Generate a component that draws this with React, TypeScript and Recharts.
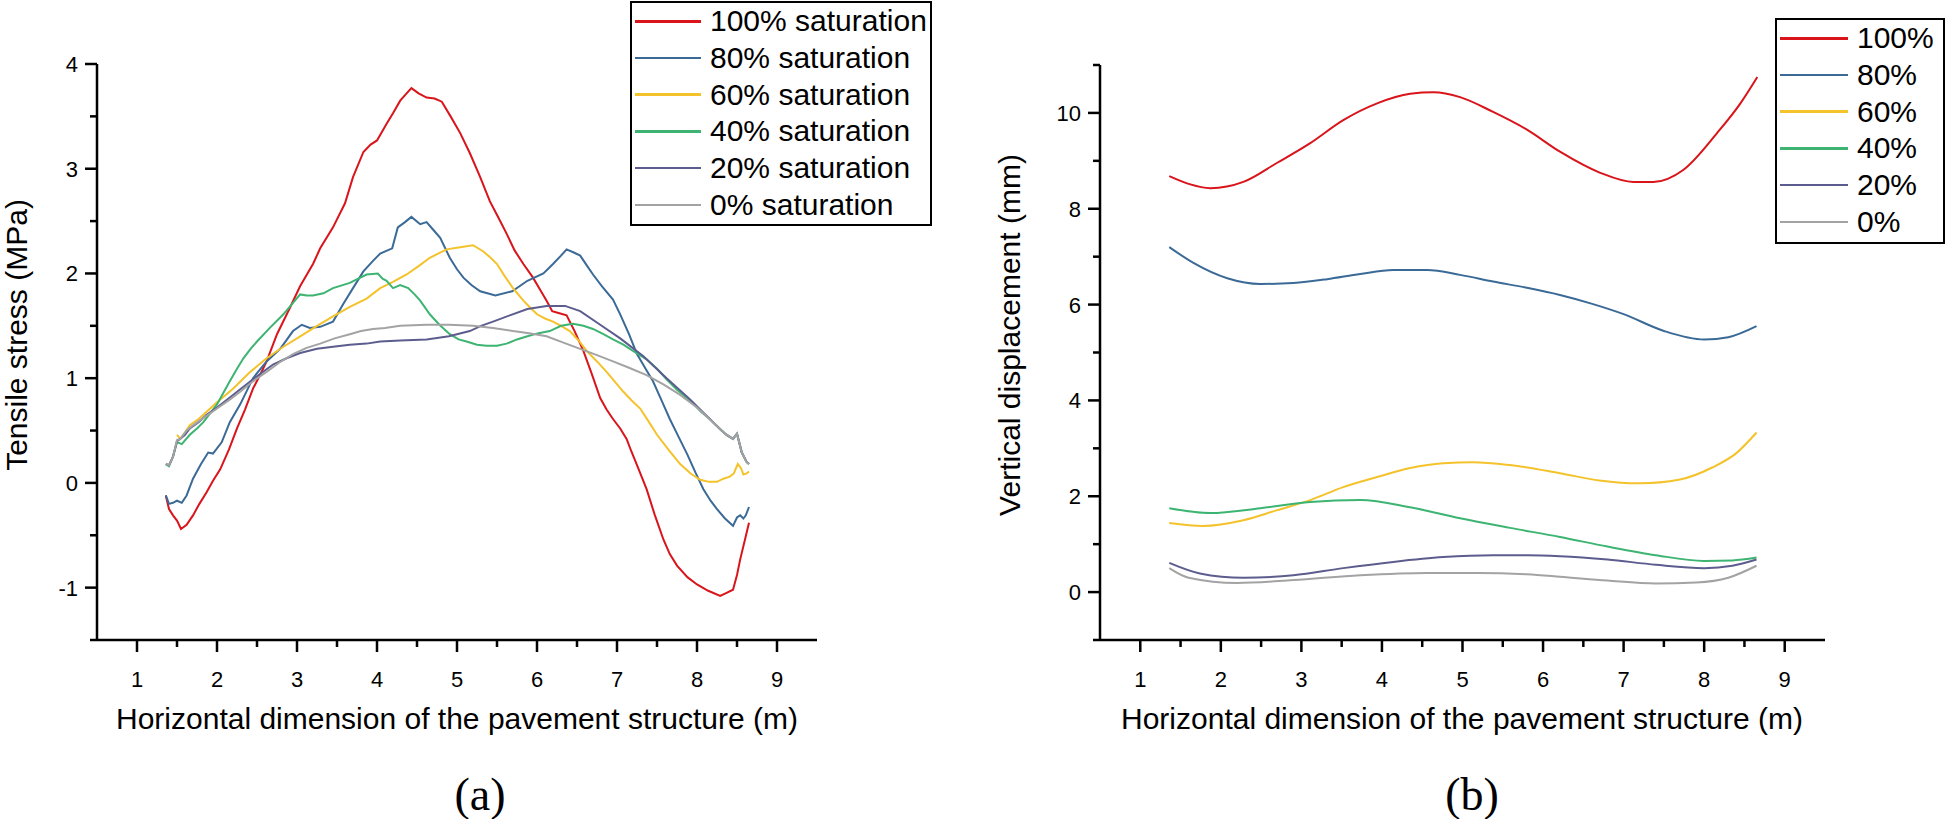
import { Legend, Line, LineChart, XAxis, YAxis } from 'recharts';

const FONT = '"Liberation Sans", Arial, Helvetica, sans-serif';

// (a) tensile stress along the section, [x (m), stress (MPa)]
const a100 = [
  [1.36, -0.12], [1.4, -0.25], [1.45, -0.31], [1.5, -0.36], [1.55, -0.44], [1.62, -0.4], [1.7, -0.31],
  [1.78, -0.2], [1.87, -0.09], [1.95, 0.02], [2.04, 0.13], [2.15, 0.32], [2.25, 0.52], [2.35, 0.7],
  [2.45, 0.9], [2.55, 1.05], [2.62, 1.16], [2.75, 1.42], [2.91, 1.67], [3.04, 1.88], [3.2, 2.09],
  [3.29, 2.24], [3.45, 2.44], [3.6, 2.67], [3.7, 2.92], [3.83, 3.16], [3.92, 3.23], [4.0, 3.27],
  [4.12, 3.43], [4.2, 3.53], [4.29, 3.65], [4.37, 3.72], [4.43, 3.77], [4.52, 3.72], [4.62, 3.68],
  [4.72, 3.67], [4.81, 3.64], [4.92, 3.5], [5.04, 3.34], [5.16, 3.15], [5.29, 2.92], [5.41, 2.69],
  [5.52, 2.53], [5.62, 2.38], [5.72, 2.22], [5.83, 2.09], [5.95, 1.96], [6.05, 1.83], [6.12, 1.74],
  [6.19, 1.64], [6.28, 1.62], [6.37, 1.6], [6.47, 1.45], [6.58, 1.26], [6.68, 1.05], [6.79, 0.81],
  [6.87, 0.7], [6.95, 0.61], [7.04, 0.52], [7.12, 0.42], [7.18, 0.3], [7.25, 0.17], [7.37, -0.06],
  [7.47, -0.3], [7.58, -0.54], [7.66, -0.68], [7.75, -0.79], [7.88, -0.9], [8.0, -0.97], [8.14, -1.03],
  [8.29, -1.08], [8.37, -1.05], [8.45, -1.02], [8.5, -0.88], [8.54, -0.73], [8.6, -0.54], [8.65, -0.38],
];
const a80 = [
  [1.36, -0.12], [1.4, -0.2], [1.45, -0.19], [1.5, -0.17], [1.56, -0.19], [1.62, -0.12], [1.7, 0.04],
  [1.8, 0.18], [1.89, 0.29], [1.95, 0.28], [2.06, 0.39], [2.16, 0.58], [2.29, 0.75], [2.45, 1.0],
  [2.62, 1.16], [2.79, 1.28], [2.95, 1.45], [3.06, 1.51], [3.16, 1.48], [3.29, 1.49], [3.45, 1.54],
  [3.58, 1.71], [3.7, 1.86], [3.83, 2.02], [3.95, 2.12], [4.04, 2.19], [4.19, 2.24], [4.26, 2.44],
  [4.35, 2.49], [4.43, 2.54], [4.54, 2.47], [4.62, 2.49], [4.7, 2.42], [4.79, 2.34], [4.91, 2.15],
  [5.0, 2.04], [5.08, 1.96], [5.18, 1.89], [5.29, 1.83], [5.48, 1.79], [5.69, 1.83], [5.88, 1.93],
  [6.08, 2.0], [6.2, 2.09], [6.3, 2.17], [6.37, 2.23], [6.46, 2.2], [6.54, 2.17], [6.62, 2.08],
  [6.7, 1.99], [6.81, 1.88], [6.95, 1.75], [7.04, 1.61], [7.15, 1.42], [7.25, 1.23], [7.35, 1.1],
  [7.45, 0.97], [7.55, 0.8], [7.66, 0.61], [7.77, 0.44], [7.88, 0.27], [7.98, 0.1], [8.08, -0.06],
  [8.17, -0.17], [8.25, -0.25], [8.35, -0.34], [8.45, -0.41], [8.5, -0.33], [8.54, -0.31],
  [8.58, -0.34], [8.61, -0.31], [8.65, -0.23],
];
const a60 = [
  [1.5, 0.46], [1.54, 0.42], [1.6, 0.48], [1.66, 0.55], [1.77, 0.61], [1.87, 0.68], [2.0, 0.77],
  [2.2, 0.9], [2.4, 1.05], [2.62, 1.19], [2.83, 1.3], [3.04, 1.4], [3.25, 1.5], [3.45, 1.59],
  [3.66, 1.68], [3.87, 1.76], [4.04, 1.86], [4.2, 1.92], [4.37, 1.99], [4.52, 2.07], [4.66, 2.15],
  [4.87, 2.23], [5.04, 2.25], [5.2, 2.27], [5.33, 2.21], [5.42, 2.15], [5.5, 2.09], [5.6, 1.97],
  [5.7, 1.86], [5.83, 1.74], [5.92, 1.67], [6.0, 1.61], [6.1, 1.57], [6.2, 1.54], [6.3, 1.5],
  [6.41, 1.45], [6.52, 1.36], [6.62, 1.26], [6.75, 1.16], [6.87, 1.06], [6.98, 0.96], [7.08, 0.87],
  [7.18, 0.79], [7.29, 0.71], [7.4, 0.58], [7.5, 0.46], [7.65, 0.31], [7.79, 0.18], [7.92, 0.09],
  [8.04, 0.03], [8.15, 0.01], [8.25, 0.01], [8.33, 0.04], [8.41, 0.06], [8.46, 0.09], [8.51, 0.18],
  [8.55, 0.14], [8.58, 0.08], [8.62, 0.09], [8.65, 0.11],
];
const a40 = [
  [1.36, 0.18], [1.4, 0.16], [1.45, 0.25], [1.5, 0.39], [1.56, 0.37], [1.66, 0.46], [1.75, 0.52],
  [1.83, 0.58], [2.0, 0.75], [2.08, 0.86], [2.16, 0.97], [2.25, 1.09], [2.33, 1.19], [2.42, 1.28],
  [2.5, 1.35], [2.66, 1.48], [2.83, 1.61], [2.95, 1.72], [3.04, 1.8], [3.12, 1.79], [3.2, 1.79],
  [3.33, 1.81], [3.45, 1.86], [3.66, 1.91], [3.87, 1.99], [4.01, 2.0], [4.07, 1.95], [4.12, 1.93],
  [4.2, 1.86], [4.29, 1.89], [4.39, 1.86], [4.47, 1.8], [4.54, 1.74], [4.66, 1.61], [4.78, 1.51],
  [4.91, 1.42], [5.02, 1.37], [5.12, 1.35], [5.25, 1.32], [5.37, 1.31], [5.5, 1.31], [5.62, 1.33],
  [5.75, 1.37], [5.88, 1.4], [6.02, 1.43], [6.16, 1.45], [6.3, 1.5], [6.45, 1.52], [6.58, 1.5],
  [6.7, 1.47], [6.83, 1.42], [6.95, 1.37], [7.08, 1.32], [7.2, 1.26], [7.37, 1.18], [7.5, 1.09],
  [7.62, 0.99], [7.75, 0.89], [7.91, 0.79], [8.05, 0.68], [8.16, 0.61], [8.28, 0.52], [8.38, 0.45],
  [8.45, 0.42], [8.5, 0.47], [8.56, 0.29], [8.62, 0.2], [8.65, 0.18],
];
const a20 = [
  [1.36, 0.18], [1.4, 0.17], [1.45, 0.25], [1.5, 0.4], [1.54, 0.42], [1.6, 0.46], [1.66, 0.52],
  [1.77, 0.58], [1.87, 0.65], [2.0, 0.72], [2.2, 0.84], [2.45, 0.99], [2.7, 1.13], [2.87, 1.19],
  [3.04, 1.24], [3.25, 1.28], [3.45, 1.3], [3.66, 1.32], [3.87, 1.33], [4.04, 1.35], [4.29, 1.36],
  [4.62, 1.37], [4.9, 1.4], [5.16, 1.45], [5.3, 1.5], [5.45, 1.54], [5.66, 1.6], [5.88, 1.66],
  [6.12, 1.69], [6.35, 1.69], [6.54, 1.64], [6.79, 1.51], [7.04, 1.38], [7.33, 1.21], [7.62, 1.0],
  [7.91, 0.8], [8.2, 0.58], [8.35, 0.47], [8.45, 0.42], [8.5, 0.47], [8.56, 0.29], [8.62, 0.2],
  [8.65, 0.18],
];
const a0 = [
  [1.36, 0.18], [1.4, 0.17], [1.45, 0.25], [1.5, 0.41], [1.54, 0.42], [1.62, 0.5], [1.7, 0.55],
  [1.85, 0.63], [2.0, 0.71], [2.15, 0.79], [2.29, 0.87], [2.45, 0.97], [2.62, 1.06], [2.78, 1.15],
  [2.95, 1.23], [3.12, 1.29], [3.29, 1.33], [3.47, 1.38], [3.66, 1.42], [3.8, 1.45], [3.95, 1.47],
  [4.1, 1.48], [4.29, 1.5], [4.62, 1.51], [4.9, 1.51], [5.2, 1.5], [5.45, 1.48], [5.7, 1.45],
  [5.9, 1.43], [6.12, 1.4], [6.33, 1.34], [6.54, 1.28], [6.75, 1.22], [6.95, 1.16], [7.15, 1.1],
  [7.37, 1.03], [7.58, 0.94], [7.79, 0.84], [8.0, 0.72], [8.2, 0.58], [8.35, 0.47], [8.45, 0.42],
  [8.5, 0.47], [8.56, 0.29], [8.62, 0.2], [8.65, 0.18],
];

// (b) vertical displacement, [x (m), displacement (mm)]
const b100 = [
  [1.36, 8.68], [1.6, 8.52], [1.87, 8.43], [2.28, 8.56], [2.7, 8.96], [3.11, 9.37], [3.52, 9.85],
  [3.94, 10.2], [4.35, 10.4], [4.64, 10.43], [4.97, 10.33], [5.38, 10.02], [5.8, 9.65], [6.21, 9.19],
  [6.71, 8.75], [7.12, 8.56], [7.37, 8.56], [7.74, 8.81], [8.16, 9.58], [8.45, 10.2], [8.66, 10.75],
];
const b80 = [
  [1.36, 7.2], [1.66, 6.87], [2.08, 6.55], [2.49, 6.43], [2.9, 6.45], [3.32, 6.53], [3.73, 6.64],
  [4.14, 6.72], [4.56, 6.72], [4.97, 6.62], [5.38, 6.48], [5.8, 6.35], [6.21, 6.2], [6.6, 6.02],
  [7.0, 5.8], [7.5, 5.45], [8.0, 5.27], [8.3, 5.32], [8.65, 5.55],
];
const b60 = [
  [1.36, 1.44], [1.78, 1.38], [2.28, 1.5], [2.7, 1.71], [3.11, 1.92], [3.52, 2.19], [3.94, 2.4],
  [4.35, 2.59], [4.76, 2.69], [5.13, 2.71], [5.59, 2.65], [6.21, 2.48], [6.7, 2.33], [7.2, 2.27],
  [7.7, 2.35], [8.1, 2.6], [8.4, 2.9], [8.65, 3.33],
];
const b40 = [
  [1.36, 1.75], [1.87, 1.65], [2.49, 1.75], [3.11, 1.88], [3.73, 1.92], [4.35, 1.77], [4.97, 1.54],
  [5.59, 1.34], [6.21, 1.15], [6.8, 0.95], [7.4, 0.77], [8.0, 0.65], [8.35, 0.66], [8.65, 0.72],
];
const b20 = [
  [1.36, 0.61], [1.74, 0.39], [2.28, 0.3], [2.9, 0.35], [3.52, 0.5], [4.14, 0.63], [4.76, 0.73],
  [5.38, 0.77], [5.8, 0.77], [6.21, 0.75], [6.8, 0.68], [7.4, 0.57], [8.0, 0.5], [8.35, 0.55],
  [8.65, 0.68],
];
const b0 = [
  [1.36, 0.5], [1.6, 0.3], [2.2, 0.19], [2.9, 0.25], [3.73, 0.35], [4.56, 0.4], [5.18, 0.4],
  [5.8, 0.37], [6.21, 0.32], [6.8, 0.24], [7.4, 0.18], [7.9, 0.2], [8.3, 0.3], [8.65, 0.55],
];

const levels = ['100%', '80%', '60%', '40%', '20%', '0%'];
const colors = ['#d9141b', '#3b6a97', '#f4c22b', '#3db471', '#5c5c8e', '#a3a3a3'];
const seriesA = [a100, a80, a60, a40, a20, a0];
const seriesB = [b100, b80, b60, b40, b20, b0];

const xTicks = [1, 1.5, 2, 2.5, 3, 3.5, 4, 4.5, 5, 5.5, 6, 6.5, 7, 7.5, 8, 8.5, 9];
const aYTicks = [-1.5, -1, -0.5, 0, 0.5, 1, 1.5, 2, 2.5, 3, 3.5, 4];
const bYTicks = [-1, 0, 1, 2, 3, 4, 5, 6, 7, 8, 9, 10, 11];

const toPts = (arr: number[][]) => arr.map(([x, y]) => ({ x, y }));

const makeYTick = (isMajor: (v: number) => boolean) => (props: any) => {
  const { x, y, payload } = props;
  const major = isMajor(payload.value);
  const len = major ? 12 : 7;
  return (
    <g>
      <line x1={x - len} x2={x} y1={y} y2={y} stroke="#000" strokeWidth={2.5} />
      {major && (
        <text x={x - 19} y={y} dy={8} textAnchor="end" fontSize={22} fontFamily={FONT} fill="#000">
          {payload.value}
        </text>
      )}
    </g>
  );
};

const XTick = (props: any) => {
  const { x, y, payload } = props;
  const major = Number.isInteger(payload.value);
  const len = major ? 12 : 7;
  return (
    <g>
      <line x1={x} x2={x} y1={y} y2={y + len} stroke="#000" strokeWidth={2.5} />
      {major && (
        <text x={x} y={y + 47} textAnchor="middle" fontSize={22} fontFamily={FONT} fill="#000">
          {payload.value}
        </text>
      )}
    </g>
  );
};

const makeLegend = (w: number, h: number, sample: number, names: string[]) => (props: any) => {
  const items = [...(props.payload || [])].sort(
    (p: any, q: any) => names.indexOf(p.value) - names.indexOf(q.value),
  );
  return (
    <div
      style={{
        width: w,
        height: h,
        border: '2px solid #000',
        boxSizing: 'border-box',
        background: '#fff',
        fontFamily: FONT,
        color: '#000',
      }}
    >
      {items.map((p: any) => (
        <div key={p.value} style={{ display: 'flex', alignItems: 'center', height: 36.7 }}>
          <div style={{ width: sample, height: 2.5, background: p.color, marginLeft: 3, marginRight: 9 }} />
          <span style={{ fontSize: 30, lineHeight: 1, whiteSpace: 'nowrap' }}>{p.value}</span>
        </div>
      ))}
    </div>
  );
};

const namesA = levels.map(l => `${l} saturation`);
const namesB = levels;

export default function App() {
  return (
    <div style={{ position: 'absolute', left: 0, top: 0, width: 1946, height: 819, background: '#fff', overflow: 'hidden' }}>
      {/* (a) tensile stress */}
      <div style={{ position: 'absolute', left: 0, top: 0 }}>
        <LineChart width={900} height={720} margin={{ top: 64, right: 83, bottom: 0, left: 0 }}>
          <XAxis
            type="number"
            dataKey="x"
            domain={[0.5, 9.5]}
            ticks={xTicks}
            interval={0}
            height={80}
            tickSize={0}
            tickMargin={0}
            tickLine={false}
            tick={XTick}
            axisLine={{ stroke: '#000', strokeWidth: 2.5 }}
          />
          <YAxis
            type="number"
            dataKey="y"
            domain={[-1.5, 4]}
            ticks={aYTicks}
            interval={0}
            width={97}
            tickSize={0}
            tickMargin={0}
            tickLine={false}
            tick={makeYTick(v => Number.isInteger(v))}
            axisLine={{ stroke: '#000', strokeWidth: 2.5 }}
          />
          <Legend
            layout="horizontal"
            verticalAlign="middle"
            align="center"
            content={makeLegend(302, 225, 66, namesA)}
            wrapperStyle={{ left: 630, top: 1, width: 302, height: 225 }}
          />
          {seriesA.map((s, i) => (
            <Line
              key={namesA[i]}
              name={namesA[i]}
              data={toPts(s)}
              dataKey="y"
              type="linear"
              stroke={colors[i]}
              strokeWidth={2}
              dot={false}
              isAnimationActive={false}
            />
          ))}
        </LineChart>
      </div>

      {/* (b) vertical displacement */}
      <div style={{ position: 'absolute', left: 1000, top: 0 }}>
        <LineChart width={946} height={720} margin={{ top: 65, right: 121, bottom: 0, left: 0 }}>
          <XAxis
            type="number"
            dataKey="x"
            domain={[0.5, 9.5]}
            ticks={xTicks}
            interval={0}
            height={80}
            tickSize={0}
            tickMargin={0}
            tickLine={false}
            tick={XTick}
            axisLine={{ stroke: '#000', strokeWidth: 2.5 }}
          />
          <YAxis
            type="number"
            dataKey="y"
            domain={[-1, 11]}
            ticks={bYTicks}
            interval={0}
            width={100}
            tickSize={0}
            tickMargin={0}
            tickLine={false}
            tick={makeYTick(v => v % 2 === 0)}
            axisLine={{ stroke: '#000', strokeWidth: 2.5 }}
          />
          <Legend
            layout="horizontal"
            verticalAlign="middle"
            align="center"
            content={makeLegend(170, 226, 68, namesB)}
            wrapperStyle={{ left: 775, top: 18, width: 170, height: 226 }}
          />
          {seriesB.map((s, i) => (
            <Line
              key={namesB[i]}
              name={namesB[i]}
              data={toPts(s)}
              dataKey="y"
              type="monotone"
              stroke={colors[i]}
              strokeWidth={2}
              dot={false}
              isAnimationActive={false}
            />
          ))}
        </LineChart>
      </div>

      {/* axis titles and panel captions */}
      <svg width={1946} height={819} style={{ position: 'absolute', left: 0, top: 0, pointerEvents: 'none' }}>
        <g fontFamily={FONT} fontSize={30} fill="#000">
          <text transform="translate(27,335) rotate(-90)" textAnchor="middle">Tensile stress (MPa)</text>
          <text transform="translate(1020,335) rotate(-90)" textAnchor="middle">Vertical displacement (mm)</text>
          <text x={457} y={729} textAnchor="middle">Horizontal dimension of the pavement structure (m)</text>
          <text x={1462} y={729} textAnchor="middle">Horizontal dimension of the pavement structure (m)</text>
        </g>
        <g fontFamily='"Liberation Serif", "Times New Roman", serif' fontSize={46} fill="#000">
          <text x={480} y={810} textAnchor="middle">(a)</text>
          <text x={1472} y={810} textAnchor="middle">(b)</text>
        </g>
      </svg>
    </div>
  );
}
